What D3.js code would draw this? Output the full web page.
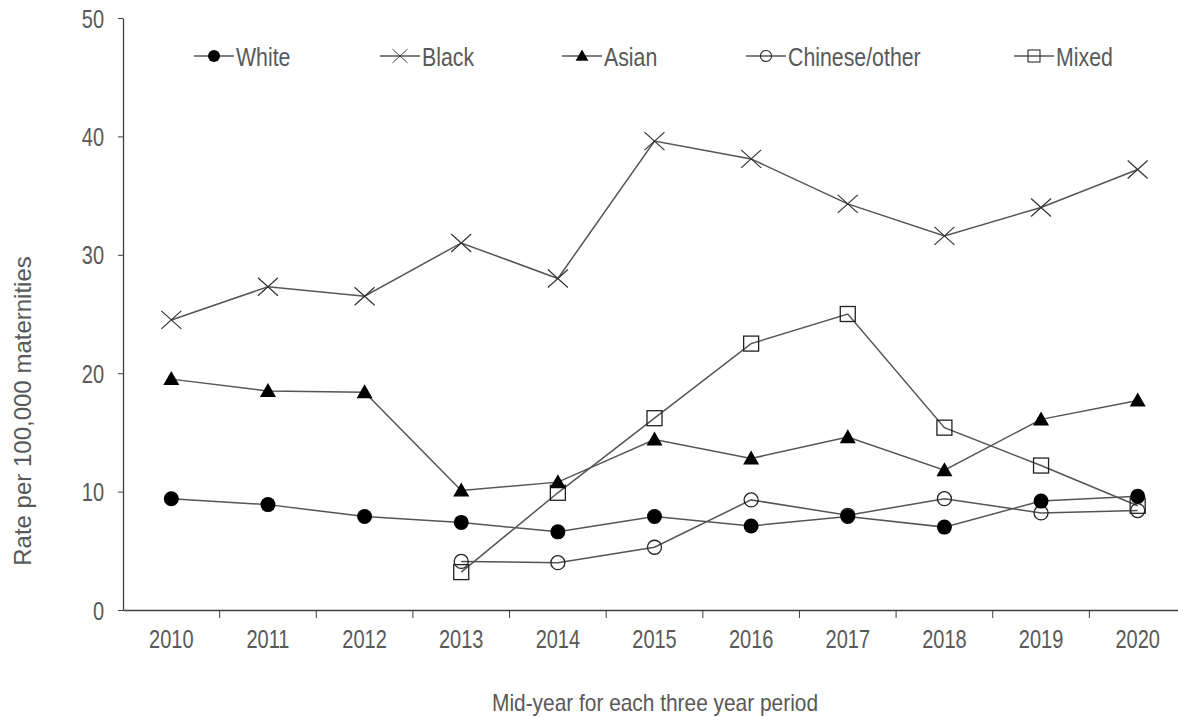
<!DOCTYPE html>
<html>
<head>
<meta charset="utf-8">
<script src="https://cdn.jsdelivr.net/npm/d3@7"></script>
<style>
  body { margin: 0; background: #fff; }
  text { font-family: "Liberation Sans", Arial, sans-serif; fill: #595959; }
</style>
</head>
<body>
<div id="chart"></div>
<script>
const years = ["2010", "2011", "2012", "2013", "2014", "2015", "2016", "2017", "2018", "2019", "2020"];

const white   = [9.4, 8.9, 7.9, 7.4, 6.6, 7.9, 7.1, 7.9, 7.0, 9.2, 9.6];
const black   = [24.5, 27.3, 26.5, 31.0, 28.0, 39.6, 38.1, 34.3, 31.6, 34.0, 37.2];
const asian   = [19.5, 18.5, 18.4, 10.1, 10.8, 14.4, 12.8, 14.6, 11.8, 16.1, 17.7];
const chinese = [null, null, null, 4.1, 4.0, 5.3, 9.3, 8.0, 9.4, 8.2, 8.4];
const mixed   = [null, null, null, 3.2, 9.9, 16.2, 22.5, 25.0, 15.4, 12.2, 8.8];

const yTicks = [0, 10, 20, 30, 40, 50];

const series = [
  { name: "White", values: white, marker: "dot" },
  { name: "Black", values: black, marker: "cross" },
  { name: "Asian", values: asian, marker: "triangle" },
  { name: "Chinese/other", values: chinese, marker: "ring" },
  { name: "Mixed", values: mixed, marker: "square" }
];

const width = 1178, height = 717;
const squeeze = 0.8; // text in the source is narrow and tall

const svg = d3.select("#chart")
  .append("svg")
  .attr("width", width)
  .attr("height", height);

const x = d3.scaleBand().domain(years).range([123, 1186]).padding(0);
const y = d3.scaleLinear().domain([0, 50]).range([610, 18]);
const cx = d => x(d) + x.bandwidth() / 2;

// axes
const axisColor = "#404040";

const yAxis = svg.append("g")
  .attr("transform", "translate(123,0)")
  .call(d3.axisLeft(y).tickValues(yTicks).tickSize(5).tickSizeOuter(0));
yAxis.select(".domain").attr("stroke", axisColor).attr("stroke-width", 1.3);
yAxis.selectAll(".tick line").attr("stroke", axisColor);
yAxis.selectAll(".tick text")
  .attr("font-size", 25)
  .attr("fill", "#595959")
  .attr("font-family", "Liberation Sans, Arial, sans-serif")
  .attr("x", -19 / squeeze)
  .attr("dy", "0.36em")
  .attr("transform", `scale(${squeeze},1)`);

const xAxis = svg.append("g")
  .attr("transform", "translate(0,610)")
  .call(d3.axisBottom(x).tickSize(0).tickSizeOuter(0));
xAxis.select(".domain").attr("stroke", axisColor).attr("stroke-width", 1.3);
xAxis.selectAll(".tick text")
  .attr("font-size", 25)
  .attr("fill", "#595959")
  .attr("font-family", "Liberation Sans, Arial, sans-serif")
  .attr("y", 38)
  .attr("dy", 0)
  .attr("transform", `scale(${squeeze},1)`);

// tick marks at the category boundaries
svg.append("g")
  .selectAll("line")
  .data(years.slice(1))
  .enter()
  .append("line")
  .attr("x1", d => x(d))
  .attr("x2", d => x(d))
  .attr("y1", 610)
  .attr("y2", 618)
  .attr("stroke", axisColor);

// titles
svg.append("text")
  .attr("transform", "translate(31,411) rotate(-90)")
  .attr("text-anchor", "middle")
  .attr("font-size", 24)
  .text("Rate per 100,000 maternities");

svg.append("text")
  .attr("transform", "translate(655,711) scale(0.87,1)")
  .attr("text-anchor", "middle")
  .attr("font-size", 24)
  .text("Mid-year for each three year period");

// markers
function drawMarker(sel, type) {
  if (type === "dot") {
    sel.append("circle").attr("r", 7.5).attr("fill", "#000");
  } else if (type === "ring") {
    sel.append("circle").attr("r", 7).attr("fill", "none")
      .attr("stroke", "#222").attr("stroke-width", 1.3);
  } else if (type === "square") {
    sel.append("rect").attr("x", -7.5).attr("y", -7.5)
      .attr("width", 15).attr("height", 15)
      .attr("fill", "none").attr("stroke", "#222").attr("stroke-width", 1.3);
  } else if (type === "triangle") {
    sel.append("path").attr("d", "M0,-8L8,6L-8,6Z").attr("fill", "#000");
  } else if (type === "cross") {
    sel.append("path").attr("d", "M-10,-9L10,9M-10,9L10,-9")
      .attr("stroke", "#333").attr("stroke-width", 1.2).attr("fill", "none");
  }
}

const line = d3.line()
  .defined(d => d.v !== null)
  .x(d => cx(d.year))
  .y(d => y(d.v));

// draw order so filled markers sit on top
const drawOrder = ["Mixed", "Chinese/other", "Black", "Asian", "White"];

drawOrder.forEach(name => {
  const s = series.find(d => d.name === name);
  const pts = years.map((yr, i) => ({ year: yr, v: s.values[i] }));

  const g = svg.append("g");
  g.append("path")
    .datum(pts)
    .attr("d", line)
    .attr("fill", "none")
    .attr("stroke", "#555")
    .attr("stroke-width", 1.5);

  g.selectAll("g.pt")
    .data(pts.filter(d => d.v !== null))
    .enter()
    .append("g")
    .attr("class", "pt")
    .attr("transform", d => `translate(${cx(d.year)},${y(d.v)})`)
    .each(function () { drawMarker(d3.select(this), s.marker); });
});

// legend
const legendX = [194, 380, 562, 746, 1014];
const legend = svg.append("g");
series.forEach((s, i) => {
  const lg = legend.append("g").attr("transform", `translate(${legendX[i]},56)`);
  lg.append("line")
    .attr("x1", 0).attr("x2", 40)
    .attr("stroke", "#555").attr("stroke-width", 1.5);
  const m = lg.append("g");
  drawMarker(m, s.marker);
  m.attr("transform", s.marker === "cross" ? "translate(20,0) scale(0.75)" : "translate(20,0) scale(0.8)");
  lg.append("text")
    .attr("transform", "translate(42,10) scale(0.82,1)")
    .attr("font-size", 26)
    .text(s.name);
});
</script>
</body>
</html>
